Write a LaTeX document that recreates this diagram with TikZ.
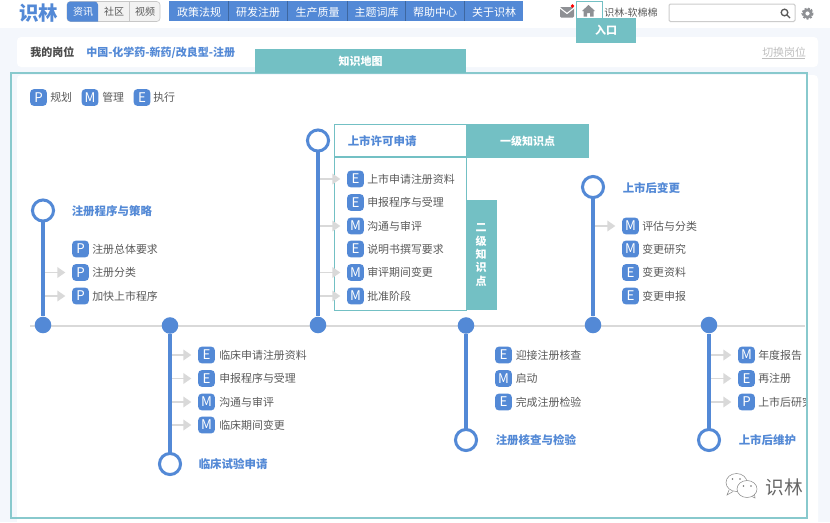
\documentclass[tikz,border=0pt]{standalone}
\usepackage{xcolor}
\usepackage{fontspec}
\usepackage{tikz}
\usetikzlibrary{arrows.meta}
\setmainfont{Noto Sans CJK SC}
\definecolor{linblue}{HTML}{5389D6}
\definecolor{linteal}{HTML}{73C0C4}
\definecolor{linpage}{HTML}{F4F7FC}
\definecolor{lintext}{HTML}{5A5A5A}
\definecolor{linrule}{HTML}{D9D9D9}
\definecolor{lingray}{HTML}{8E9094}
\tikzset{
    badge/.style={fill=linblue,rounded corners=2.5pt,minimum size=12.4pt,inner sep=0pt,text=white,font=\fontsize{10}{10}\selectfont},
    itemtext/.style={anchor=west,inner sep=0pt,text=lintext,font=\fontsize{8.2}{10}\selectfont},
    headtext/.style={anchor=west,inner sep=0pt,text=linblue,font=\fontsize{8.6}{10}\selectfont\bfseries},
    menutext/.style={inner sep=0pt,text=white,font=\fontsize{8.25}{10}\selectfont},
    tabtext/.style={inner sep=0pt,font=\fontsize{7.5}{10}\selectfont},
    tealtext/.style={inner sep=0pt,text=white,align=center,font=\fontsize{8.25}{10}\selectfont\bfseries},
    dotnode/.style={circle,fill=linblue,minimum size=12.4pt,inner sep=0pt},
    ringnode/.style={circle,draw=linblue,line width=2.25pt,fill=white,minimum size=15.8pt,inner sep=0pt},
    stemline/.style={draw=linblue,line width=2.4pt,shorten >=-1pt},
    feedarrow/.style={draw=linrule,line width=1.1pt,shorten >=5pt,-{Triangle[length=6pt,width=8pt]}},
}
\begin{document}
\begin{tikzpicture}[x=0.75pt,y=0.75pt,yscale=-1,xscale=1]
    \useasboundingbox (0,0) rectangle (830,522);
    % page and panels
    \fill[linpage] (0,0) rectangle (830,522);
    \fill[white] (0,0) rectangle (830,28);
    \fill[white,rounded corners=3pt] (17,37) rectangle (818,67);
    \fill[white,rounded corners=3pt] (17,75) rectangle (818,530);
    \draw[linteal!85,line width=0.8pt] (11,73) rectangle (807,518);
    % header
    \node[inner sep=0pt,text=linblue,font=\fontsize{14.6}{16}\selectfont\bfseries] (logo) at (38.5,13) {识林};
    \draw[fill=black!5,draw=black!22,rounded corners=2.5pt,line width=0.5pt] (67,1.5) rectangle (160,21.5);
    \draw[draw=black!22,line width=0.5pt] (129.5,1.5) -- (129.5,21.5);
    \fill[linblue,rounded corners=2.5pt] (67,1.5) -- (98,1.5) [sharp corners] -- (98,21.5) [rounded corners=2.5pt] -- (67,21.5) -- cycle;
    \node[tabtext,text=white] (tabnews) at (83,12) {资讯};
    \node[tabtext,text=lintext] (tabclub) at (114,12) {社区};
    \node[tabtext,text=lintext] (tabvideo) at (145,12) {视频};
    \fill[linblue] (169,1) rectangle (523,21);
    \draw[black!25!linblue,line width=0.5pt] (228,1) -- (228,21) (287,1) -- (287,21) (347,1) -- (347,21) (405.5,1) -- (405.5,21) (464,1) -- (464,21);
    \node[menutext] (menua) at (199,12.5) {政策法规};
    \node[menutext] (menub) at (258,12.5) {研发注册};
    \node[menutext] (menuc) at (317.5,12.5) {生产质量};
    \node[menutext] (menud) at (376.5,12.5) {主题词库};
    \node[menutext] (menue) at (435,12.5) {帮助中心};
    \node[menutext] (menuf) at (494,12.5) {关于识林};
    % mail, home, search, gear
    \fill[lingray,rounded corners=0.8pt] (560,7) rectangle (574,17.5);
    \draw[white,line width=0.8pt] (560,8) -- (567,13.5) -- (574,8);
    \fill[red] (572.5,6) circle (1.9);
    \draw[linteal,line width=0.75pt] (576,1.5) -- (602.5,1.5) -- (602.5,18) (576,18) -- (576,1.5);
    \fill[lingray] (582,11) -- (588.5,5) -- (595,11) -- (593.5,11) -- (593.5,16.5) -- (590,16.5) -- (590,13) -- (587,13) -- (587,16.5) -- (583.5,16.5) -- (583.5,11) -- cycle;
    \fill[linteal] (576,18) rectangle (636,43);
    \node[tealtext] (entry) at (606,30.5) {入口};
    \node[tabtext,anchor=west,text=lintext] (username) at (604,13) {识林-软棉棉};
    \draw[draw=black!20,fill=white,line width=0.75pt,rounded corners=1pt] (669,4) rectangle (795,21.5);
    \draw[black!65,line width=1pt] (784.5,12.5) circle (3.3) (787,15) -- (790,18);
    \draw[lingray,line width=1.6pt,dash pattern=on 1.5pt off 1pt] (807.5,13.5) circle (5);
    \fill[lingray,even odd rule] (807.5,13.5) circle (5) (807.5,13.5) circle (2.2);
    % my post bar
    \node[itemtext,font=\fontsize{8.25}{10}\selectfont\bfseries,text=black!70] (mypost) at (30,52.5) {我的岗位};
    \node[itemtext,font=\fontsize{8.25}{10}\selectfont\bfseries,text=linblue] (postname) at (86,52.5) {中国-化学药-新药/改良型-注册};
    \node[itemtext,text=black!25] (switchpost) at (762,52.5) {切换岗位};
    \draw[black!25,line width=0.5pt] (762,58.5) -- (805,58.5);
    \fill[linteal] (255,49) rectangle (466,73);
    \node[tealtext] (mapbanner) at (360.5,61.5) {知识地图};
    % legend
    \node[badge] (legp) at (38.5,97.5) {P};
    \node[itemtext] (legptext) at (50,97.5) {规划};
    \node[badge] (legm) at (90,97.5) {M};
    \node[itemtext] (legmtext) at (102,97.5) {管理};
    \node[badge] (lege) at (142,97.5) {E};
    \node[itemtext] (legetext) at (153,97.5) {执行};
    % first level box
    \draw[draw=linteal,fill=white,line width=0.75pt] (334,124.5) rectangle (466,156.5);
    \draw[draw=linteal,fill=white,line width=0.75pt] (334,157.5) rectangle (466,310);
    \fill[linteal] (466,124) rectangle (589,158);
    \node[tealtext] (levelone) at (527.5,141) {一级知识点};
    \fill[linteal] (466,200) rectangle (497,310);
    \node[tealtext] (leveltwo) at (481,255) {二\\级\\知\\识\\点};
    % time line
    \coordinate (axisstart) at (30,325.5);
    \coordinate (axisend) at (805,325.5);
    \draw[linrule,line width=1.5pt] (axisstart) -- (axisend);
    % stage nodes
    \node[dotnode] (dota) at (43,325) {};
    \node[ringnode] (ringa) at (43,210.5) {};
    \node[dotnode] (dotb) at (170,325.5) {};
    \node[ringnode] (ringb) at (170,464) {};
    \node[dotnode] (dotc) at (318,325) {};
    \node[ringnode] (ringc) at (318,140.5) {};
    \node[dotnode] (dotd) at (466,325.5) {};
    \node[ringnode] (ringd) at (466,440) {};
    \node[dotnode] (dote) at (593,325) {};
    \node[ringnode] (ringe) at (593,187) {};
    \node[dotnode] (dotf) at (709,325) {};
    \node[ringnode] (ringf) at (709,440) {};
    \draw[stemline] (dota) -- (ringa);
    \draw[stemline] (dotb) -- (ringb);
    \draw[stemline] (dotc) -- (ringc);
    \draw[stemline] (dotd) -- (ringd);
    \draw[stemline] (dote) -- (ringe);
    \draw[stemline] (dotf) -- (ringf);
    \node[headtext] (heada) at (71.5,211.5) {注册程序与策略};
    \node[headtext] (headb) at (198.5,464) {临床试验申请};
    \node[headtext] (headc) at (347.5,141.5) {上市许可申请};
    \node[headtext] (headd) at (495.5,440.5) {注册核查与检验};
    \node[headtext] (heade) at (622.5,188) {上市后变更};
    \node[headtext] (headf) at (738.5,440.5) {上市后维护};
    % stage a
    \node[badge] (itema1) at (80.5,249) {P}; \node[itemtext] (texta1) at (92,249) {注册总体要求};
    \node[badge] (itema2) at (80.5,272.5) {P}; \node[itemtext] (texta2) at (92,272.5) {注册分类};
    \node[badge] (itema3) at (80.5,296) {P}; \node[itemtext] (texta3) at (92,296) {加快上市程序};
    \draw[feedarrow] ([xshift=1.8pt]dota |- itema2) -- (itema2);
    \draw[feedarrow] ([xshift=1.8pt]dota |- itema3) -- (itema3);
    % stage b
    \node[badge] (itemb1) at (206.5,355) {E}; \node[itemtext] (textb1) at (219,355) {临床申请注册资料};
    \node[badge] (itemb2) at (206.5,378.5) {E}; \node[itemtext] (textb2) at (219,378.5) {申报程序与受理};
    \node[badge] (itemb3) at (206.5,402) {M}; \node[itemtext] (textb3) at (219,402) {沟通与审评};
    \node[badge] (itemb4) at (206.5,425) {M}; \node[itemtext] (textb4) at (219,425) {临床期间变更};
    \draw[feedarrow] ([xshift=1.8pt]dotb |- itemb1) -- (itemb1);
    \draw[feedarrow] ([xshift=1.8pt]dotb |- itemb2) -- (itemb2);
    \draw[feedarrow] ([xshift=1.8pt]dotb |- itemb3) -- (itemb3);
    \draw[feedarrow] ([xshift=1.8pt]dotb |- itemb4) -- (itemb4);
    % stage c
    \node[badge] (itemc1) at (355.5,179) {E}; \node[itemtext] (textc1) at (367,179) {上市申请注册资料};
    \node[badge] (itemc2) at (355.5,202.5) {E}; \node[itemtext] (textc2) at (367,202.5) {申报程序与受理};
    \node[badge] (itemc3) at (355.5,226) {M}; \node[itemtext] (textc3) at (367,226) {沟通与审评};
    \node[badge] (itemc4) at (355.5,249) {E}; \node[itemtext] (textc4) at (367,249) {说明书撰写要求};
    \node[badge] (itemc5) at (355.5,272.5) {M}; \node[itemtext] (textc5) at (367,272.5) {审评期间变更};
    \node[badge] (itemc6) at (355.5,296) {M}; \node[itemtext] (textc6) at (367,296) {批准阶段};
    \draw[feedarrow] ([xshift=1.8pt]dotc |- itemc1) -- (itemc1);
    \draw[feedarrow] ([xshift=1.8pt]dotc |- itemc3) -- (itemc3);
    \draw[feedarrow] ([xshift=1.8pt]dotc |- itemc5) -- (itemc5);
    \draw[feedarrow] ([xshift=1.8pt]dotc |- itemc6) -- (itemc6);
    % stage d
    \node[badge] (itemd1) at (503.5,355) {E}; \node[itemtext] (textd1) at (515.5,355) {迎接注册核查};
    \node[badge] (itemd2) at (503.5,378.5) {M}; \node[itemtext] (textd2) at (515.5,378.5) {启动};
    \node[badge] (itemd3) at (503.5,402) {E}; \node[itemtext] (textd3) at (515.5,402) {完成注册检验};
    % stage e
    \node[badge] (iteme1) at (630.5,226) {M}; \node[itemtext] (texte1) at (642,226) {评估与分类};
    \node[badge] (iteme2) at (630.5,249) {M}; \node[itemtext] (texte2) at (642,249) {变更研究};
    \node[badge] (iteme3) at (630.5,272.5) {E}; \node[itemtext] (texte3) at (642,272.5) {变更资料};
    \node[badge] (iteme4) at (630.5,296) {E}; \node[itemtext] (texte4) at (642,296) {变更申报};
    \draw[feedarrow] ([xshift=1.8pt]dote |- iteme1) -- (iteme1);
    % stage f
    \node[badge] (itemf1) at (746.5,355) {M}; \node[itemtext] (textf1) at (758,355) {年度报告};
    \node[badge] (itemf2) at (746.5,378.5) {E}; \node[itemtext] (textf2) at (758,378.5) {再注册};
    \node[badge] (itemf3) at (746.5,402) {P};
    \begin{scope}
        \clip (750,390) rectangle (805,414);
        \node[itemtext] (textf3) at (758,402) {上市后研究};
    \end{scope}
    \draw[feedarrow] ([xshift=1.8pt]dotf |- itemf1) -- (itemf1);
    \draw[feedarrow] ([xshift=1.8pt]dotf |- itemf2) -- (itemf2);
    \draw[feedarrow] ([xshift=1.8pt]dotf |- itemf3) -- (itemf3);
    % watermark
    \draw[black!45,line width=0.4pt,fill=white] (736.5,482.5) ellipse (10.5 and 9);
    \draw[black!45,line width=0.4pt,fill=white] (747,489) ellipse (10 and 8.5);
    \draw[black!45,line width=0.4pt] (729,490) -- (727,495) -- (733,491.5) (752,496.5) -- (755,498) -- (754.5,494);
    \fill[black!55] (732.5,479) circle (0.9) (740,479) circle (0.9) (743.5,486) circle (0.8) (751,486) circle (0.8);
    \node[inner sep=0pt,text=black!60,font=\fontsize{14}{16}\selectfont] (markname) at (784,487) {识林};
\end{tikzpicture}
\end{document}
